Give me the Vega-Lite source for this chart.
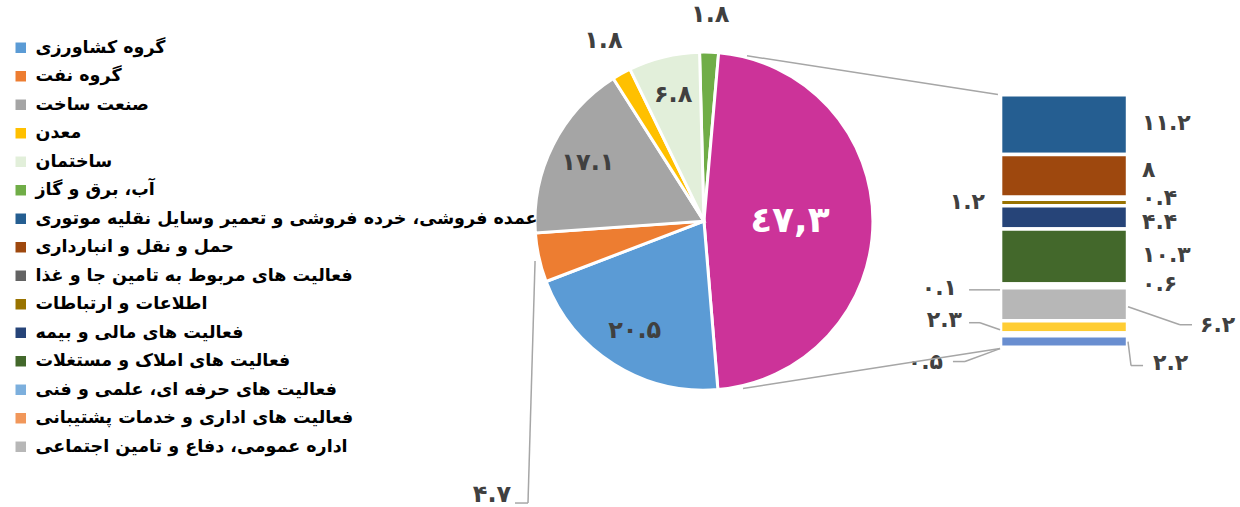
{
  "$schema": "https://vega.github.io/schema/vega-lite/v6.json",
  "width": 1240,
  "height": 507,
  "padding": 0,
  "autosize": {"type": "fit", "contains": "padding"},
  "background": "white",
  "config": {"view": {"stroke": null}, "text": {"font": "DejaVu Sans", "fontWeight": "bold"}},
  "datasets": {
    "pie": [
      {"name": "آب، برق و گاز", "value": 1.8, "label": "۱.۸", "order": 1},
      {"name": "سایر بخش ها", "value": 47.3, "label": "٤٧,٣", "order": 2},
      {"name": "گروه کشاورزی", "value": 20.5, "label": "۲۰.۵", "order": 3},
      {"name": "گروه نفت", "value": 4.7, "label": "۴.۷", "order": 4},
      {"name": "صنعت ساخت", "value": 17.1, "label": "۱۷.۱", "order": 5},
      {"name": "معدن", "value": 1.8, "label": "۱.۸", "order": 6},
      {"name": "ساختمان", "value": 6.8, "label": "۶.۸", "order": 7}
    ],
    "bar": [
      {"name": "عمده فروشی، خرده فروشی و تعمیر وسایل نقلیه موتوری", "value": 11.2, "label": "۱۱.۲", "order": 1},
      {"name": "حمل و نقل و انبارداری", "value": 8, "label": "۸", "order": 2},
      {"name": "فعالیت های مربوط به تامین جا و غذا", "value": 0.4, "label": "۰.۴", "order": 3},
      {"name": "اطلاعات و ارتباطات", "value": 1.2, "label": "۱.۲", "order": 4},
      {"name": "فعالیت های مالی و بیمه", "value": 4.4, "label": "۴.۴", "order": 5},
      {"name": "فعالیت های املاک و مستغلات", "value": 10.3, "label": "۱۰.۳", "order": 6},
      {"name": "فعالیت های حرفه ای، علمی و فنی", "value": 0.6, "label": "۰.۶", "order": 7},
      {"name": "فعالیت های اداری و خدمات پشتیبانی", "value": 0.1, "label": "۰.۱", "order": 8},
      {"name": "اداره عمومی، دفاع و تامین اجتماعی", "value": 6.2, "label": "۶.۲", "order": 9},
      {"name": "آموزش", "value": 2.3, "label": "۲.۳", "order": 10},
      {"name": "سلامت انسان و مددکاری اجتماعی", "value": 0.5, "label": "۰.۵", "order": 11},
      {"name": "سایر فعالیت های خدماتی", "value": 2.2, "label": "۲.۲", "order": 12}
    ]
  },
  "layer": [
    {
      "data": {"name": "pie"},
      "transform": [{"stack": "value", "groupby": [], "sort": [{"field": "order"}], "as": ["start", "end"]}],
      "mark": {"type": "arc", "outerRadius": 169, "stroke": "white", "strokeWidth": 3},
      "encoding": {
        "x": {"datum": 56.77, "type": "quantitative", "scale": {"domain": [0, 100], "nice": false, "zero": false}, "axis": null},
        "y": {"datum": 23.7, "type": "quantitative", "scale": {"domain": [-29.59, 65.21], "nice": false, "zero": false}, "axis": null},
        "theta": {"field": "start", "type": "quantitative", "stack": null, "scale": {"domain": [0, 100], "range": [-0.026, 6.2572]}},
        "theta2": {"field": "end"},
        "color": {
          "field": "name", "type": "nominal",
          "scale": {
            "domain": ["گروه کشاورزی", "گروه نفت", "صنعت ساخت", "معدن", "ساختمان", "آب، برق و گاز", "عمده فروشی، خرده فروشی و تعمیر وسایل نقلیه موتوری", "حمل و نقل و انبارداری", "فعالیت های مربوط به تامین جا و غذا", "اطلاعات و ارتباطات", "فعالیت های مالی و بیمه", "فعالیت های املاک و مستغلات", "فعالیت های حرفه ای، علمی و فنی", "فعالیت های اداری و خدمات پشتیبانی", "اداره عمومی، دفاع و تامین اجتماعی", "سایر بخش ها", "آموزش", "سلامت انسان و مددکاری اجتماعی", "سایر فعالیت های خدماتی"],
            "range": ["#5B9BD5", "#ED7D31", "#A5A5A5", "#FFC000", "#E2EFDA", "#70AD47", "#255E91", "#9E480E", "#636363", "#997300", "#264478", "#43682B", "#7CAFDD", "#F1975A", "#B7B7B7", "#CC3399", "#FFCD33", "#8CC168", "#698ED0"]
          },
          "legend": {
            "title": null, "orient": "none", "legendX": 12, "legendY": 39,
            "values": ["گروه کشاورزی", "گروه نفت", "صنعت ساخت", "معدن", "ساختمان", "آب، برق و گاز", "عمده فروشی، خرده فروشی و تعمیر وسایل نقلیه موتوری", "حمل و نقل و انبارداری", "فعالیت های مربوط به تامین جا و غذا", "اطلاعات و ارتباطات", "فعالیت های مالی و بیمه", "فعالیت های املاک و مستغلات", "فعالیت های حرفه ای، علمی و فنی", "فعالیت های اداری و خدمات پشتیبانی", "اداره عمومی، دفاع و تامین اجتماعی"],
            "symbolType": "square", "symbolSize": 110, "symbolStrokeWidth": 0, "symbolOpacity": 1,
            "labelFont": "DejaVu Sans", "labelFontSize": 17.5, "labelFontWeight": "bold", "labelColor": "#000000",
            "labelLimit": 700, "rowPadding": 9.5, "labelOffset": 6
          }
        }
      }
    },
    {
      "data": {"name": "bar"},
      "transform": [{"stack": "value", "groupby": [], "sort": [{"field": "order", "order": "descending"}], "as": ["y0", "y1"]}],
      "mark": {"type": "rect", "stroke": "white", "strokeWidth": 3.5},
      "encoding": {
        "x": {"datum": 80.69, "type": "quantitative", "scale": {"domain": [0, 100], "nice": false, "zero": false}, "axis": null},
        "x2": {"datum": 90.93},
        "y": {"field": "y0", "type": "quantitative", "scale": {"domain": [-29.59, 65.21], "nice": false, "zero": false}, "axis": null},
        "y2": {"field": "y1"},
        "color": {"field": "name", "type": "nominal"}
      }
    },
    {
      "data": {"name": "pie"},
      "transform": [
        {"stack": "value", "groupby": [], "sort": [{"field": "order"}], "as": ["start", "end"]},
        {"calculate": "(datum.start + datum.end) / 2", "as": "mid"},
        {"filter": {"field": "name", "oneOf": ["گروه کشاورزی", "صنعت ساخت", "ساختمان"]}}
      ],
      "mark": {"type": "text", "radius": 130, "fontSize": 24, "color": "#404040", "align": "center", "baseline": "middle"},
      "encoding": {
        "x": {"datum": 56.77, "type": "quantitative", "scale": {"domain": [0, 100], "nice": false, "zero": false}, "axis": null},
        "y": {"datum": 23.7, "type": "quantitative", "scale": {"domain": [-29.59, 65.21], "nice": false, "zero": false}, "axis": null},
        "theta": {"field": "mid", "type": "quantitative", "stack": null},
        "text": {"field": "label"}
      }
    },
    {
      "data": {"name": "pie"},
      "transform": [
        {"stack": "value", "groupby": [], "sort": [{"field": "order"}], "as": ["start", "end"]},
        {"calculate": "(datum.start + datum.end) / 2", "as": "mid"},
        {"filter": {"field": "name", "oneOf": ["آب، برق و گاز", "معدن"]}}
      ],
      "mark": {"type": "text", "radius": 206, "fontSize": 24, "color": "#404040", "align": "center", "baseline": "middle"},
      "encoding": {
        "x": {"datum": 56.77, "type": "quantitative", "scale": {"domain": [0, 100], "nice": false, "zero": false}, "axis": null},
        "y": {"datum": 23.7, "type": "quantitative", "scale": {"domain": [-29.59, 65.21], "nice": false, "zero": false}, "axis": null},
        "theta": {"field": "mid", "type": "quantitative", "stack": null},
        "text": {"field": "label"}
      }
    },
    {
      "data": {"name": "pie"},
      "transform": [
        {"stack": "value", "groupby": [], "sort": [{"field": "order"}], "as": ["start", "end"]},
        {"calculate": "(datum.start + datum.end) / 2", "as": "mid"},
        {"filter": {"field": "name", "equal": "سایر بخش ها"}}
      ],
      "mark": {"type": "text", "radius": 86, "fontSize": 36, "color": "#FFFFFF", "align": "center", "baseline": "middle"},
      "encoding": {
        "x": {"datum": 56.77, "type": "quantitative", "scale": {"domain": [0, 100], "nice": false, "zero": false}, "axis": null},
        "y": {"datum": 23.7, "type": "quantitative", "scale": {"domain": [-29.59, 65.21], "nice": false, "zero": false}, "axis": null},
        "theta": {"field": "mid", "type": "quantitative", "stack": null},
        "text": {"field": "label"}
      }
    },
    {
      "data": {"name": "pie"},
      "transform": [{"filter": {"field": "name", "equal": "گروه نفت"}}],
      "mark": {"type": "text", "fontSize": 24, "color": "#404040", "align": "center", "baseline": "middle"},
      "encoding": {
        "x": {"datum": 39.68, "type": "quantitative", "scale": {"domain": [0, 100], "nice": false, "zero": false}, "axis": null},
        "y": {"datum": -27.72, "type": "quantitative", "scale": {"domain": [-29.59, 65.21], "nice": false, "zero": false}, "axis": null},
        "text": {"field": "label"}
      }
    },
    {
      "data": {"name": "bar"},
      "transform": [
        {"stack": "value", "groupby": [], "sort": [{"field": "order", "order": "descending"}], "as": ["y0", "y1"]},
        {"calculate": "(datum.y0 + datum.y1) / 2", "as": "mid"},
        {"filter": {"field": "value", "oneOf": [11.2, 10.3, 0.6]}}
      ],
      "mark": {"type": "text", "fontSize": 22, "color": "#404040", "align": "left", "baseline": "middle", "dy": -2},
      "encoding": {
        "x": {"datum": 92.1, "type": "quantitative", "scale": {"domain": [0, 100], "nice": false, "zero": false}, "axis": null},
        "y": {"field": "mid", "type": "quantitative", "scale": {"domain": [-29.59, 65.21], "nice": false, "zero": false}, "axis": null},
        "text": {"field": "label"}
      }
    },
    {
      "data": {"name": "bar"},
      "transform": [
        {"stack": "value", "groupby": [], "sort": [{"field": "order", "order": "descending"}], "as": ["y0", "y1"]},
        {"calculate": "(datum.y0 + datum.y1) / 2", "as": "mid"},
        {"filter": {"field": "value", "equal": 8}}
      ],
      "mark": {"type": "text", "fontSize": 22, "color": "#404040", "align": "left", "baseline": "middle", "dy": -6},
      "encoding": {
        "x": {"datum": 92.1, "type": "quantitative", "scale": {"domain": [0, 100], "nice": false, "zero": false}, "axis": null},
        "y": {"field": "mid", "type": "quantitative", "scale": {"domain": [-29.59, 65.21], "nice": false, "zero": false}, "axis": null},
        "text": {"field": "label"}
      }
    },
    {
      "data": {"name": "bar"},
      "transform": [
        {"stack": "value", "groupby": [], "sort": [{"field": "order", "order": "descending"}], "as": ["y0", "y1"]},
        {"calculate": "(datum.y0 + datum.y1) / 2", "as": "mid"},
        {"filter": {"field": "value", "equal": 0.4}}
      ],
      "mark": {"type": "text", "fontSize": 22, "color": "#404040", "align": "left", "baseline": "middle", "dy": 0},
      "encoding": {
        "x": {"datum": 92.1, "type": "quantitative", "scale": {"domain": [0, 100], "nice": false, "zero": false}, "axis": null},
        "y": {"field": "mid", "type": "quantitative", "scale": {"domain": [-29.59, 65.21], "nice": false, "zero": false}, "axis": null},
        "text": {"field": "label"}
      }
    },
    {
      "data": {"name": "bar"},
      "transform": [
        {"stack": "value", "groupby": [], "sort": [{"field": "order", "order": "descending"}], "as": ["y0", "y1"]},
        {"calculate": "(datum.y0 + datum.y1) / 2", "as": "mid"},
        {"filter": {"field": "value", "equal": 4.4}}
      ],
      "mark": {"type": "text", "fontSize": 22, "color": "#404040", "align": "left", "baseline": "middle", "dy": 5},
      "encoding": {
        "x": {"datum": 92.1, "type": "quantitative", "scale": {"domain": [0, 100], "nice": false, "zero": false}, "axis": null},
        "y": {"field": "mid", "type": "quantitative", "scale": {"domain": [-29.59, 65.21], "nice": false, "zero": false}, "axis": null},
        "text": {"field": "label"}
      }
    },
    {
      "data": {"name": "bar"},
      "transform": [
        {"stack": "value", "groupby": [], "sort": [{"field": "order", "order": "descending"}], "as": ["y0", "y1"]},
        {"calculate": "(datum.y0 + datum.y1) / 2", "as": "mid"},
        {"filter": {"field": "value", "equal": 6.2}}
      ],
      "mark": {"type": "text", "fontSize": 22, "color": "#404040", "align": "left", "baseline": "middle", "dy": 21},
      "encoding": {
        "x": {"datum": 96.77, "type": "quantitative", "scale": {"domain": [0, 100], "nice": false, "zero": false}, "axis": null},
        "y": {"field": "mid", "type": "quantitative", "scale": {"domain": [-29.59, 65.21], "nice": false, "zero": false}, "axis": null},
        "text": {"field": "label"}
      }
    },
    {
      "data": {"name": "bar"},
      "transform": [
        {"stack": "value", "groupby": [], "sort": [{"field": "order", "order": "descending"}], "as": ["y0", "y1"]},
        {"calculate": "(datum.y0 + datum.y1) / 2", "as": "mid"},
        {"filter": {"field": "value", "equal": 2.2}}
      ],
      "mark": {"type": "text", "fontSize": 22, "color": "#404040", "align": "left", "baseline": "middle", "dy": 21},
      "encoding": {
        "x": {"datum": 92.98, "type": "quantitative", "scale": {"domain": [0, 100], "nice": false, "zero": false}, "axis": null},
        "y": {"field": "mid", "type": "quantitative", "scale": {"domain": [-29.59, 65.21], "nice": false, "zero": false}, "axis": null},
        "text": {"field": "label"}
      }
    },
    {
      "data": {"name": "bar"},
      "transform": [
        {"stack": "value", "groupby": [], "sort": [{"field": "order", "order": "descending"}], "as": ["y0", "y1"]},
        {"calculate": "(datum.y0 + datum.y1) / 2", "as": "mid"},
        {"filter": {"field": "value", "equal": 1.2}}
      ],
      "mark": {"type": "text", "fontSize": 22, "color": "#404040", "align": "right", "baseline": "middle", "dy": 0},
      "encoding": {
        "x": {"datum": 79.44, "type": "quantitative", "scale": {"domain": [0, 100], "nice": false, "zero": false}, "axis": null},
        "y": {"field": "mid", "type": "quantitative", "scale": {"domain": [-29.59, 65.21], "nice": false, "zero": false}, "axis": null},
        "text": {"field": "label"}
      }
    },
    {
      "data": {"name": "bar"},
      "transform": [
        {"stack": "value", "groupby": [], "sort": [{"field": "order", "order": "descending"}], "as": ["y0", "y1"]},
        {"calculate": "(datum.y0 + datum.y1) / 2", "as": "mid"},
        {"filter": {"field": "value", "equal": 0.1}}
      ],
      "mark": {"type": "text", "fontSize": 22, "color": "#404040", "align": "right", "baseline": "middle", "dy": 1},
      "encoding": {
        "x": {"datum": 77.18, "type": "quantitative", "scale": {"domain": [0, 100], "nice": false, "zero": false}, "axis": null},
        "y": {"field": "mid", "type": "quantitative", "scale": {"domain": [-29.59, 65.21], "nice": false, "zero": false}, "axis": null},
        "text": {"field": "label"}
      }
    },
    {
      "data": {"name": "bar"},
      "transform": [
        {"stack": "value", "groupby": [], "sort": [{"field": "order", "order": "descending"}], "as": ["y0", "y1"]},
        {"calculate": "(datum.y0 + datum.y1) / 2", "as": "mid"},
        {"filter": {"field": "value", "equal": 2.3}}
      ],
      "mark": {"type": "text", "fontSize": 22, "color": "#404040", "align": "right", "baseline": "middle", "dy": -7},
      "encoding": {
        "x": {"datum": 77.58, "type": "quantitative", "scale": {"domain": [0, 100], "nice": false, "zero": false}, "axis": null},
        "y": {"field": "mid", "type": "quantitative", "scale": {"domain": [-29.59, 65.21], "nice": false, "zero": false}, "axis": null},
        "text": {"field": "label"}
      }
    },
    {
      "data": {"name": "bar"},
      "transform": [
        {"stack": "value", "groupby": [], "sort": [{"field": "order", "order": "descending"}], "as": ["y0", "y1"]},
        {"calculate": "(datum.y0 + datum.y1) / 2", "as": "mid"},
        {"filter": {"field": "value", "equal": 0.5}}
      ],
      "mark": {"type": "text", "fontSize": 22, "color": "#404040", "align": "right", "baseline": "middle", "dy": 28},
      "encoding": {
        "x": {"datum": 76.05, "type": "quantitative", "scale": {"domain": [0, 100], "nice": false, "zero": false}, "axis": null},
        "y": {"field": "mid", "type": "quantitative", "scale": {"domain": [-29.59, 65.21], "nice": false, "zero": false}, "axis": null},
        "text": {"field": "label"}
      }
    },
    {
      "data": {"values": [{}]},
      "mark": {"type": "rule", "color": "#A6A6A6", "strokeWidth": 1.5},
      "encoding": {
        "x": {"datum": 60.24, "type": "quantitative", "scale": {"domain": [0, 100], "nice": false, "zero": false}, "axis": null},
        "y": {"datum": 54.74, "type": "quantitative", "scale": {"domain": [-29.59, 65.21], "nice": false, "zero": false}, "axis": null},
        "x2": {"datum": 80.48}, "y2": {"datum": 47.45}
      }
    },
    {
      "data": {"values": [{}]},
      "mark": {"type": "rule", "color": "#A6A6A6", "strokeWidth": 1.5},
      "encoding": {
        "x": {"datum": 59.92, "type": "quantitative", "scale": {"domain": [0, 100], "nice": false, "zero": false}, "axis": null},
        "y": {"datum": -7.71, "type": "quantitative", "scale": {"domain": [-29.59, 65.21], "nice": false, "zero": false}, "axis": null},
        "x2": {"datum": 80.65}, "y2": {"datum": -0.23}
      }
    },
    {
      "data": {"values": [{}]},
      "mark": {"type": "rule", "color": "#A6A6A6", "strokeWidth": 1.5},
      "encoding": {
        "x": {"datum": 43.15, "type": "quantitative", "scale": {"domain": [0, 100], "nice": false, "zero": false}, "axis": null},
        "y": {"datum": 16.22, "type": "quantitative", "scale": {"domain": [-29.59, 65.21], "nice": false, "zero": false}, "axis": null},
        "x2": {"datum": 42.58}, "y2": {"datum": -29.22}
      }
    },
    {
      "data": {"values": [{}]},
      "mark": {"type": "rule", "color": "#A6A6A6", "strokeWidth": 1.5},
      "encoding": {
        "x": {"datum": 42.58, "type": "quantitative", "scale": {"domain": [0, 100], "nice": false, "zero": false}, "axis": null},
        "y": {"datum": -29.22, "type": "quantitative", "scale": {"domain": [-29.59, 65.21], "nice": false, "zero": false}, "axis": null},
        "x2": {"datum": 41.53}, "y2": {"datum": -29.22}
      }
    },
    {
      "data": {"values": [{}]},
      "mark": {"type": "rule", "color": "#A6A6A6", "strokeWidth": 1.5},
      "encoding": {
        "x": {"datum": 90.97, "type": "quantitative", "scale": {"domain": [0, 100], "nice": false, "zero": false}, "axis": null},
        "y": {"datum": 7.62, "type": "quantitative", "scale": {"domain": [-29.59, 65.21], "nice": false, "zero": false}, "axis": null},
        "x2": {"datum": 95.16}, "y2": {"datum": 4.25}
      }
    },
    {
      "data": {"values": [{}]},
      "mark": {"type": "rule", "color": "#A6A6A6", "strokeWidth": 1.5},
      "encoding": {
        "x": {"datum": 95.16, "type": "quantitative", "scale": {"domain": [0, 100], "nice": false, "zero": false}, "axis": null},
        "y": {"datum": 4.25, "type": "quantitative", "scale": {"domain": [-29.59, 65.21], "nice": false, "zero": false}, "axis": null},
        "x2": {"datum": 96.13}, "y2": {"datum": 4.25}
      }
    },
    {
      "data": {"values": [{}]},
      "mark": {"type": "rule", "color": "#A6A6A6", "strokeWidth": 1.5},
      "encoding": {
        "x": {"datum": 90.97, "type": "quantitative", "scale": {"domain": [0, 100], "nice": false, "zero": false}, "axis": null},
        "y": {"datum": 1.08, "type": "quantitative", "scale": {"domain": [-29.59, 65.21], "nice": false, "zero": false}, "axis": null},
        "x2": {"datum": 91.21}, "y2": {"datum": -3.41}
      }
    },
    {
      "data": {"values": [{}]},
      "mark": {"type": "rule", "color": "#A6A6A6", "strokeWidth": 1.5},
      "encoding": {
        "x": {"datum": 91.21, "type": "quantitative", "scale": {"domain": [0, 100], "nice": false, "zero": false}, "axis": null},
        "y": {"datum": -3.41, "type": "quantitative", "scale": {"domain": [-29.59, 65.21], "nice": false, "zero": false}, "axis": null},
        "x2": {"datum": 92.18}, "y2": {"datum": -3.41}
      }
    },
    {
      "data": {"values": [{}]},
      "mark": {"type": "rule", "color": "#A6A6A6", "strokeWidth": 1.5},
      "encoding": {
        "x": {"datum": 78.15, "type": "quantitative", "scale": {"domain": [0, 100], "nice": false, "zero": false}, "axis": null},
        "y": {"datum": 10.8, "type": "quantitative", "scale": {"domain": [-29.59, 65.21], "nice": false, "zero": false}, "axis": null},
        "x2": {"datum": 80.65}, "y2": {"datum": 10.8}
      }
    },
    {
      "data": {"values": [{}]},
      "mark": {"type": "rule", "color": "#A6A6A6", "strokeWidth": 1.5},
      "encoding": {
        "x": {"datum": 78.15, "type": "quantitative", "scale": {"domain": [0, 100], "nice": false, "zero": false}, "axis": null},
        "y": {"datum": 4.63, "type": "quantitative", "scale": {"domain": [-29.59, 65.21], "nice": false, "zero": false}, "axis": null},
        "x2": {"datum": 79.03}, "y2": {"datum": 4.63}
      }
    },
    {
      "data": {"values": [{}]},
      "mark": {"type": "rule", "color": "#A6A6A6", "strokeWidth": 1.5},
      "encoding": {
        "x": {"datum": 79.03, "type": "quantitative", "scale": {"domain": [0, 100], "nice": false, "zero": false}, "axis": null},
        "y": {"datum": 4.63, "type": "quantitative", "scale": {"domain": [-29.59, 65.21], "nice": false, "zero": false}, "axis": null},
        "x2": {"datum": 80.65}, "y2": {"datum": 3.32}
      }
    },
    {
      "data": {"values": [{}]},
      "mark": {"type": "rule", "color": "#A6A6A6", "strokeWidth": 1.5},
      "encoding": {
        "x": {"datum": 76.85, "type": "quantitative", "scale": {"domain": [0, 100], "nice": false, "zero": false}, "axis": null},
        "y": {"datum": -2.66, "type": "quantitative", "scale": {"domain": [-29.59, 65.21], "nice": false, "zero": false}, "axis": null},
        "x2": {"datum": 77.82}, "y2": {"datum": -2.66}
      }
    },
    {
      "data": {"values": [{}]},
      "mark": {"type": "rule", "color": "#A6A6A6", "strokeWidth": 1.5},
      "encoding": {
        "x": {"datum": 77.82, "type": "quantitative", "scale": {"domain": [0, 100], "nice": false, "zero": false}, "axis": null},
        "y": {"datum": -2.66, "type": "quantitative", "scale": {"domain": [-29.59, 65.21], "nice": false, "zero": false}, "axis": null},
        "x2": {"datum": 80.65}, "y2": {"datum": -0.23}
      }
    }
  ]
}
